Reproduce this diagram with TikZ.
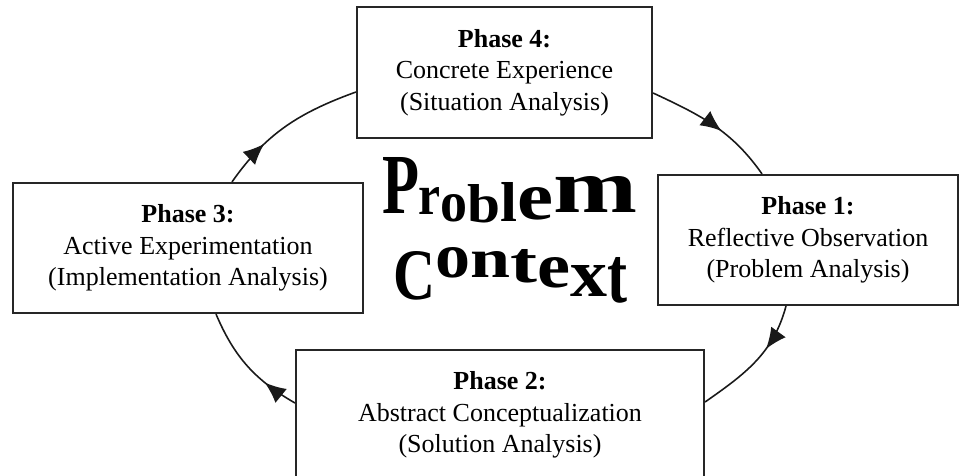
\documentclass[tikz,border=0pt]{standalone}
\usepackage{fontspec}
\setmainfont{Liberation Serif}
\usepackage{graphicx}
\usetikzlibrary{arrows.meta,positioning,decorations.markings}

\begin{document}
\begin{tikzpicture}[
    font=\fontsize{14.8}{18}\selectfont,
    >=Latex,
    phase/.style={draw=black!85,line width=1.2pt,fill=white,align=center,minimum height=2.6cm,inner sep=2pt},
    wordart/.style={inner sep=0pt,font=\bfseries},
    cycle/.style={line width=0.9pt,draw=black!90,postaction={decorate},
      decoration={markings,mark=at position #1 with {\arrow{Latex[length=4.2mm,width=3.6mm]}}}}
  ]
    \useasboundingbox (0,0) rectangle (19.26,9.5);

    \node[phase,minimum width=5.9cm,minimum height=2.62cm] (ph4) at (10.09,8.05) {\textbf{Phase 4:}\\Concrete Experience\\(Situation Analysis)};
    \node[phase,minimum width=6.0cm] (ph1) at (16.16,4.70) {\textbf{Phase 1:}\\Reflective Observation\\(Problem Analysis)};
    \node[phase,minimum width=8.16cm] (ph2) at (10.0,1.2) {\textbf{Phase 2:}\\Abstract Conceptualization\\(Solution Analysis)};
    \node[phase,minimum width=7.0cm] (ph3) at (3.76,4.54) {\textbf{Phase 3:}\\Active Experimentation\\(Implementation Analysis)};

    % cycle arcs
    \draw[cycle=0.32] ([xshift=0.88cm]ph3.north) to[out=55,in=200] ([yshift=-0.39cm]ph4.west);
    \draw[cycle=0.57] ([yshift=-0.41cm]ph4.east) to[out=-25,in=125] ([xshift=-0.92cm]ph1.north);
    \draw[cycle=0.37] ([xshift=-0.44cm]ph1.south) to[out=-105,in=35] ([yshift=0.26cm]ph2.east);
    \draw[cycle=0.3] ([yshift=0.24cm]ph2.west) to[out=150,in=-67] ([xshift=0.56cm]ph3.south);

    % word art in the middle
    \foreach \ch/\cx/\cy/\w/\h [count=\i] in {P/8.01/5.78/0.74/1.12, r/8.58/5.47/0.44/0.54, o/9.07/5.33/0.54/0.54,
        b/9.67/5.42/0.66/0.76, l/10.17/5.45/0.34/0.78, e/10.70/5.42/0.72/0.64, m/11.90/5.60/1.68/0.72}
      \node[wordart] (prob\i) at (\cx,\cy) {\resizebox{\w cm}{\h cm}{\ch}};
    \foreach \ch/\cx/\cy/\w/\h [count=\i] in {C/8.28/3.98/0.84/0.96, o/9.05/4.24/0.70/0.60, n/9.80/4.20/0.80/0.52,
        t/10.47/4.17/0.54/0.66, e/11.07/4.04/0.66/0.60, x/11.77/3.87/0.74/0.62, t/12.34/3.89/0.40/0.90}
      \node[wordart] (cont\i) at (\cx,\cy) {\resizebox{\w cm}{\h cm}{\ch}};
\end{tikzpicture}
\end{document}
